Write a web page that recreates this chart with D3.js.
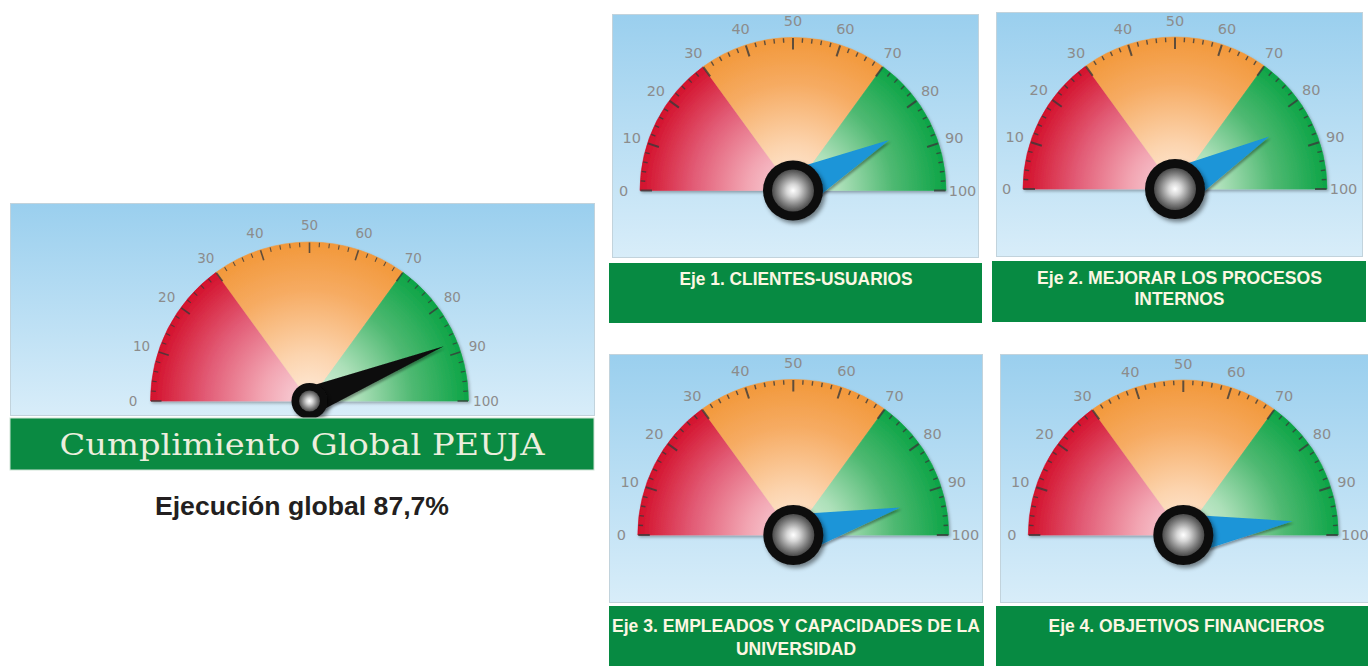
<!DOCTYPE html>
<html><head><meta charset="utf-8">
<script src="https://cdn.jsdelivr.net/npm/d3@7"></script>
<style>html,body{margin:0;padding:0;background:#fff;overflow:hidden}svg{display:block}</style>
</head><body><svg id="c" width="1368" height="666"></svg>
<script>
// ---------------- DATA ----------------
const mainTitle = "Cumplimiento Global PEUJA";
const mainValue = 87.7;
const mainCaption = "Ejecución global 87,7%";
const axisTitles = [
  ["Eje 1. CLIENTES-USUARIOS"],
  ["Eje 2. MEJORAR LOS PROCESOS", "INTERNOS"],
  ["Eje 3. EMPLEADOS Y CAPACIDADES DE LA", "UNIVERSIDAD"],
  ["Eje 4. OBJETIVOS FINANCIEROS"]
];
const axisValues = [84.6, 83.8, 92.0, 96.0];
const tickLabels = [0, 10, 20, 30, 40, 50, 60, 70, 80, 90, 100];
const minorTicks = [2,4,6,8,12,14,16,18,22,24,26,28,32,34,36,38,42,44,46,48,52,54,56,58,62,64,66,68,72,74,76,78,82,84,86,88,92,94,96,98];
const bandBreaks = [0, 30, 70, 100];
const bandNames = ["red", "orange", "green"];

// ---------------- STYLE / LAYOUT ----------------
const bandStops = {
  red:    [["0", "#f9d8de"], ["0.3", "#f2a5b2"], ["0.65", "#e25c76"], ["1", "#d3102b"]],
  orange: [["0", "#feecdc"], ["0.3", "#fcd4ae"], ["0.7", "#f6ab62"], ["1", "#f2983a"]],
  green:  [["0", "#ddf2e1"], ["0.3", "#ade0b9"], ["0.65", "#4fb972"], ["1", "#0ca446"]]
};
const mainLayout = {
  id: "g0", panel: [10, 203, 584, 212], cx: 309.5, cy: 401, R: 159, labelR: 176.5, labelSize: 13.5,
  needleLen: 145, needleHalf: 14, needleColor: "#0c0c0c", hubR: 18, hubInner: 10.5,
  majorLen: 11, minorLen: 5, majorW: 1.6, minorW: 1.1
};
const smallLayouts = [
  { panel: [612, 14, 366, 243], cx: 793, cy: 190.5, R: 153, bar: [609, 263, 373, 60], tx: 796, ty: [285], tw: [233] },
  { panel: [996, 12, 366, 244], cx: 1175, cy: 189, R: 152, bar: [992, 261, 374, 61], tx: 1179.5, ty: [284, 305], tw: [285, 90] },
  { panel: [609, 354, 373, 248], cx: 793.3, cy: 535, R: 155.5, bar: [609, 606, 375, 60], tx: 796, ty: [632, 655], tw: [368, 120] },
  { panel: [1000, 354, 370, 248], cx: 1183.3, cy: 535, R: 155, bar: [996, 606, 372, 60], tx: 1186.5, ty: [632], tw: [276] }
].map((l, i) => Object.assign({
  id: "g" + (i + 1), labelSize: 14.5, needleHalf: 21, needleColor: "#1a95d8", hubR: 30, hubInner: 21,
  majorLen: 12, minorLen: 5, majorW: 2, minorW: 1.4
}, l, { labelR: l.R + 16.5, needleLen: l.R * 0.71 }));

const svg = d3.select("#c");
const defs = svg.append("defs");

const pg = defs.append("linearGradient").attr("id", "panelGrad").attr("x1", 0).attr("y1", 0).attr("x2", 0).attr("y2", 1);
pg.append("stop").attr("offset", "0").attr("stop-color", "#9acfee");
pg.append("stop").attr("offset", "1").attr("stop-color", "#d8edf9");

const hg = defs.append("radialGradient").attr("id", "hubGrad").attr("cx", "50%").attr("cy", "50%").attr("r", "50%");
[["0", "#ffffff"], ["0.3", "#d6d6d6"], ["0.75", "#7a7a7a"], ["1", "#4a4a4a"]].forEach(s =>
  hg.append("stop").attr("offset", s[0]).attr("stop-color", s[1]));

function shadow(id, dx, dy, sd, op) {
  const f = defs.append("filter").attr("id", id).attr("x", "-20%").attr("y", "-20%").attr("width", "140%").attr("height", "140%");
  f.append("feDropShadow").attr("dx", dx).attr("dy", dy).attr("stdDeviation", sd)
    .attr("flood-color", "#000").attr("flood-opacity", op);
}
shadow("arcShadow", 1.5, 2, 1.5, 0.3);
shadow("needleShadow", 1.5, 2, 1, 0.35);
shadow("hubShadow", 2.5, 3, 2, 0.45);

function drawGauge(L, value) {
  const g = svg.append("g");
  const scale = d3.scaleLinear().domain([0, 100]).range([-Math.PI / 2, Math.PI / 2]);
  const pt = (v, r) => { const a = scale(v); return [L.cx + r * Math.sin(a), L.cy - r * Math.cos(a)]; };

  g.append("rect").attr("x", L.panel[0] + 0.5).attr("y", L.panel[1] + 0.5)
    .attr("width", L.panel[2]).attr("height", L.panel[3])
    .attr("fill", "url(#panelGrad)").attr("stroke", "#c2d3dc").attr("stroke-width", 1);

  bandNames.forEach(name => {
    const rg = defs.append("radialGradient").attr("id", L.id + "-" + name)
      .attr("gradientUnits", "userSpaceOnUse").attr("cx", 0).attr("cy", 0).attr("r", L.R)
      .attr("fx", 0).attr("fy", 0);
    bandStops[name].forEach(s => rg.append("stop").attr("offset", s[0]).attr("stop-color", s[1]));
  });

  const arc = d3.arc().innerRadius(0).outerRadius(L.R);
  const bands = bandNames.map((name, i) => ({ name, from: bandBreaks[i], to: bandBreaks[i + 1] }));
  g.append("g").attr("transform", `translate(${L.cx},${L.cy})`).attr("filter", "url(#arcShadow)")
    .selectAll("path").data(bands).join("path")
    .attr("d", d => arc({ startAngle: scale(d.from), endAngle: scale(d.to) }))
    .attr("fill", d => `url(#${L.id}-${d.name})`)
    .attr("stroke", d => `url(#${L.id}-${d.name})`).attr("stroke-width", 0.6);

  const tg = g.append("g").attr("stroke", "#3a3a3a").attr("stroke-opacity", 0.8).attr("stroke-linecap", "butt");
  tg.selectAll("line.minor").data(minorTicks).join("line").attr("class", "minor")
    .attr("x1", d => pt(d, L.R - 0.5)[0]).attr("y1", d => pt(d, L.R - 0.5)[1])
    .attr("x2", d => pt(d, L.R - L.minorLen)[0]).attr("y2", d => pt(d, L.R - L.minorLen)[1])
    .attr("stroke-width", L.minorW);
  tg.selectAll("line.major").data(tickLabels).join("line").attr("class", "major")
    .attr("x1", d => pt(d, L.R - 0.5)[0]).attr("y1", d => pt(d, L.R - 0.5)[1])
    .attr("x2", d => pt(d, L.R - L.majorLen)[0]).attr("y2", d => pt(d, L.R - L.majorLen)[1])
    .attr("stroke-width", L.majorW);

  g.append("g").selectAll("text").data(tickLabels).join("text")
    .attr("x", d => pt(d, L.labelR)[0]).attr("y", d => pt(d, L.labelR)[1])
    .attr("text-anchor", "middle").attr("dominant-baseline", "central")
    .attr("font-family", "DejaVu Sans, Verdana, sans-serif").attr("font-size", L.labelSize)
    .attr("fill", "#8c8c8c").text(d => d);

  const a = scale(value);
  const ux = Math.sin(a), uy = -Math.cos(a), nx = Math.cos(a), ny = Math.sin(a);
  const pts = [
    [L.cx + nx * L.needleHalf, L.cy + ny * L.needleHalf],
    [L.cx + ux * L.needleLen, L.cy + uy * L.needleLen],
    [L.cx - nx * L.needleHalf, L.cy - ny * L.needleHalf]
  ];
  g.append("path").attr("d", d3.line()(pts) + "Z").attr("fill", L.needleColor)
    .attr("filter", "url(#needleShadow)");

  const hub = g.append("g").attr("filter", "url(#hubShadow)");
  hub.append("circle").attr("cx", L.cx).attr("cy", L.cy).attr("r", L.hubR).attr("fill", "#0d0d0d");
  hub.append("circle").attr("cx", L.cx).attr("cy", L.cy).attr("r", L.hubInner).attr("fill", "url(#hubGrad)");
  return g;
}

drawGauge(mainLayout, mainValue);
svg.append("rect").attr("x", 10).attr("y", 418).attr("width", 584).attr("height", 52)
  .attr("fill", "#0a8a42").attr("stroke", "#cfe3d6").attr("stroke-width", 1);
svg.append("text").attr("x", 302).attr("y", 455).attr("text-anchor", "middle")
  .attr("font-family", "DejaVu Serif, Liberation Serif, serif").attr("font-size", 30)
  .attr("textLength", 485).attr("lengthAdjust", "spacingAndGlyphs")
  .attr("fill", "#eceedd").text(mainTitle);
svg.append("text").attr("x", 302).attr("y", 515).attr("text-anchor", "middle")
  .attr("font-family", "Liberation Sans, Arial, sans-serif").attr("font-weight", "bold").attr("font-size", 25)
  .attr("textLength", 294).attr("lengthAdjust", "spacingAndGlyphs")
  .attr("fill", "#231f20").text(mainCaption);

smallLayouts.forEach((L, i) => {
  drawGauge(L, axisValues[i]);
  svg.append("rect").attr("x", L.bar[0]).attr("y", L.bar[1]).attr("width", L.bar[2]).attr("height", L.bar[3])
    .attr("fill", "#078a42");
  axisTitles[i].forEach((line, j) => {
    svg.append("text").attr("x", L.tx).attr("y", L.ty[j]).attr("text-anchor", "middle")
      .attr("font-family", "Liberation Sans, Arial, sans-serif").attr("font-weight", "bold").attr("font-size", 18)
      .attr("textLength", L.tw[j]).attr("lengthAdjust", "spacingAndGlyphs")
      .attr("fill", "#fcf7e2").text(line);
  });
});
</script></body></html>
